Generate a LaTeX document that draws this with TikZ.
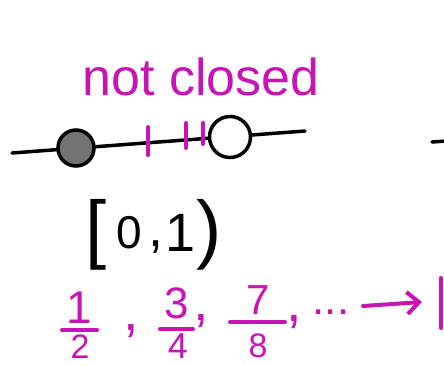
\documentclass[tikz,border=0pt]{standalone}
\usepackage{fontspec}
\setmainfont{Liberation Sans}
\usetikzlibrary{arrows.meta}
\definecolor{mag}{RGB}{200,20,180}
\begin{document}
\begin{tikzpicture}[x=1pt,y=-1pt,
  blk/.style={line width=3.5pt,line cap=round,black},
  mg/.style={line width=4pt,line cap=round,mag},
  mtext/.style={text=mag,inner sep=0pt},
  btext/.style={text=black,inner sep=0pt},
  dot/.style={circle,draw=black,line width=3.5pt,inner sep=0pt}]
\useasboundingbox (0,0) rectangle (444,365);
% title
\node[mtext,anchor=base,font=\fontsize{52}{60}\selectfont] (title) at (201,95) {not closed};
% number line
\coordinate (L) at (12,153);
\coordinate (R) at (305,131);
\draw[blk] (L) -- (R);
\node[dot,fill=black!55,minimum size=36pt] (closed) at (76,148) {};
\node[dot,fill=white,minimum size=41pt] (open) at (230,137) {};
\draw[mg] (148,127) -- (148,155);
\draw[mg] (186,123) -- (186,148);
\draw[mg] (203,123) -- (203,144);
\coordinate (d1) at (432,142);
\coordinate (d2) at (446,141);
\draw[blk] (d1) -- (d2);
% interval
\node[btext,anchor=base,font=\fontsize{76}{80}\selectfont] (lb) at (96,254) {[};
\node[btext,anchor=base,font=\fontsize{46}{56}\selectfont] (int0) at (129,248) {0};
\node[btext,anchor=base,font=\fontsize{54}{56}\selectfont] (comma) at (156,246) {,};
\node[btext,anchor=base,font=\fontsize{54}{56}\selectfont] (int1) at (181,251) {1};
\node[btext,anchor=base,font=\fontsize{76}{80}\selectfont] (rb) at (209,254) {)};
% sequence
\node[mtext,anchor=base,font=\fontsize{46}{48}\selectfont] (n1) at (79,323) {1};
\node[mtext,anchor=base,font=\fontsize{34}{40}\selectfont] (q1) at (80,358) {2};
\draw[mg] (62,330) -- (97,330);
\node[mtext,anchor=base,font=\fontsize{56}{60}\selectfont] (c1) at (131,330) {,};
\node[mtext,anchor=base,font=\fontsize{44}{48}\selectfont] (n2) at (177,318) {3};
\node[mtext,anchor=base,font=\fontsize{36}{40}\selectfont] (q2) at (178,358) {4};
\draw[mg] (160,329) -- (193,329);
\node[mtext,anchor=base,font=\fontsize{56}{60}\selectfont] (c2) at (201,320) {,};
\node[mtext,anchor=base,font=\fontsize{42}{48}\selectfont] (n3) at (258,314) {7};
\node[mtext,anchor=base,font=\fontsize{34}{40}\selectfont] (q3) at (258,357) {8};
\draw[mg] (230,322) -- (285,322);
\node[mtext,anchor=base,font=\fontsize{56}{60}\selectfont] (c3) at (294,321) {,};
\node[mtext,anchor=base,font=\fontsize{44}{48}\selectfont] (dots) at (331,314) {...};
\coordinate (tip) at (422,302);
\draw[mg,-{Straight Barb[length=12pt,width=22pt]}] (363,306) -- (tip);
\draw[mg] (441,278) -- (441,328);
\end{tikzpicture}
\end{document}
